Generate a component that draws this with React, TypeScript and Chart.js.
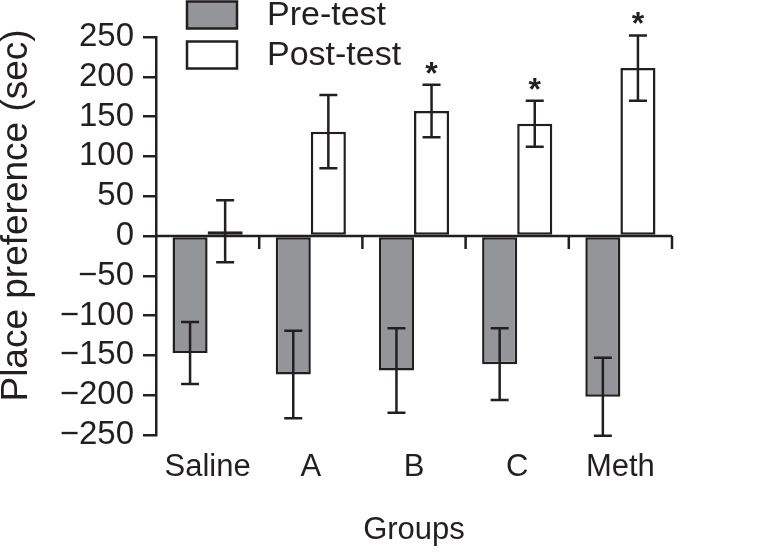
import React, { useEffect, useRef } from 'react';
import { Chart, registerables } from 'chart.js';
Chart.register(...registerables);

const categories = ['Saline', 'A', 'B', 'C', 'Meth'];
const preTest = [-147, -174, -169, -161, -202];
const preErr = [39, 55, 53, 45, 49];
const postTest = [6, 131, 157, 141, 211];
const postErr = [39, 46, 33, 29, 41];
const significant = [false, false, true, true, true];
const seriesLabels = ['Pre-test', 'Post-test'];
const yMin = -250;
const yMax = 250;
const yStep = 50;
const yTitle = 'Place preference (sec)';
const xTitle = 'Groups';

const ink = '#231f20';
const family = '"Liberation Sans", Arial, Helvetica, sans-serif';
const lw = 2.5;

const overlay = {
  id: 'overlay',
  afterDatasetsDraw(chart: any) {
    const ctx = chart.ctx;
    const xs = chart.scales.x;
    const ys = chart.scales.y;
    ctx.save();
    ctx.strokeStyle = ink;
    ctx.lineWidth = lw;
    // zero line with category boundary ticks
    const y0 = ys.getPixelForValue(0);
    ctx.beginPath();
    ctx.moveTo(xs.left, y0);
    ctx.lineTo(xs.right, y0);
    const cw = (xs.right - xs.left) / categories.length;
    for (let i = 0; i < categories.length; i++) {
      const bx = xs.getPixelForValue(i) + cw / 2;
      ctx.moveTo(bx, y0);
      ctx.lineTo(bx, y0 + 13);
    }
    ctx.stroke();
    // error bars
    const errs = [preErr, postErr];
    chart.data.datasets.forEach((ds: any, di: number) => {
      const meta = chart.getDatasetMeta(di);
      meta.data.forEach((el: any, i: number) => {
        const v = ds.data[i];
        const e = errs[di][i];
        const top = ys.getPixelForValue(v + e);
        const bot = ys.getPixelForValue(v - e);
        const cx = el.x;
        ctx.beginPath();
        ctx.moveTo(cx, top);
        ctx.lineTo(cx, bot);
        ctx.moveTo(cx - 9, top);
        ctx.lineTo(cx + 9, top);
        ctx.moveTo(cx - 9, bot);
        ctx.lineTo(cx + 9, bot);
        ctx.stroke();
        if (di === 1 && significant[i]) {
          ctx.fillStyle = ink;
          ctx.font = `bold 32px ${family}`;
          ctx.textAlign = 'center';
          ctx.textBaseline = 'alphabetic';
          ctx.fillText('*', cx, top - 1);
        }
      });
    });
    ctx.restore();
  },
  afterDraw(chart: any) {
    const ctx = chart.ctx;
    const left = chart.chartArea.left + 31;
    ctx.save();
    ctx.lineWidth = lw;
    ctx.strokeStyle = ink;
    chart.data.datasets.forEach((ds: any, i: number) => {
      const top = 1.5 + i * 40;
      ctx.fillStyle = ds.backgroundColor;
      ctx.fillRect(left, top, 50, 27);
      ctx.strokeRect(left, top, 50, 27);
      ctx.fillStyle = ink;
      ctx.font = `34px ${family}`;
      ctx.textAlign = 'left';
      ctx.textBaseline = 'middle';
      ctx.fillText(ds.label, left + 80, top + 14);
    });
    ctx.restore();
  },
};

export default function App() {
  const ref = useRef<HTMLCanvasElement>(null);
  useEffect(() => {
    if (!ref.current) return;
    const chart = new Chart(ref.current, {
      type: 'bar',
      data: {
        labels: categories,
        datasets: [
          {
            label: seriesLabels[0],
            data: preTest,
            backgroundColor: '#939598',
            borderColor: ink,
            borderWidth: lw,
            borderSkipped: false,
            categoryPercentage: 0.68,
            barPercentage: 1,
          },
          {
            label: seriesLabels[1],
            data: postTest,
            backgroundColor: '#ffffff',
            borderColor: ink,
            borderWidth: lw,
            borderSkipped: false,
            categoryPercentage: 0.68,
            barPercentage: 1,
          },
        ],
      },
      options: {
        animation: false,
        responsive: true,
        maintainAspectRatio: false,
        layout: { padding: { top: 37, right: 87, left: 0, bottom: 0 } },
        plugins: {
          legend: { display: false },
          tooltip: { enabled: false },
        },
        scales: {
          x: {
            grid: { display: false, drawTicks: false },
            border: { display: false },
            ticks: {
              color: ink,
              font: { family, size: 31 },
              padding: 14,
              maxRotation: 0,
              autoSkip: false,
            },
            title: {
              display: true,
              text: xTitle,
              color: ink,
              font: { family, size: 31 },
              padding: { top: 0, bottom: 3 },
            },
            afterFit(scale: any) {
              scale.height = 117;
            },
          },
          y: {
            min: yMin,
            max: yMax,
            grid: {
              display: true,
              drawOnChartArea: false,
              drawTicks: true,
              tickLength: 13,
              color: ink,
              lineWidth: lw,
            },
            border: { display: true, color: ink, width: lw },
            ticks: {
              stepSize: yStep,
              autoSkip: false,
              color: ink,
              font: { family, size: 33 },
              padding: 9,
              callback: (v: any) => (Number(v) < 0 ? '\u2212' + Math.abs(Number(v)) : String(v)),
            },
            title: {
              display: true,
              text: '    ' + yTitle,
              color: ink,
              font: { family, size: 37, lineHeight: 0.9 },
              padding: { top: 0, bottom: 0 },
            },
            afterFit(scale: any) {
              scale.width = 156;
            },
          },
        },
      },
      plugins: [overlay],
    });
    return () => chart.destroy();
  }, []);
  return (
    <div style={{ position: 'absolute', left: 0, top: 0, width: 759, height: 552, background: '#fff' }}>
      <canvas ref={ref} />
    </div>
  );
}
